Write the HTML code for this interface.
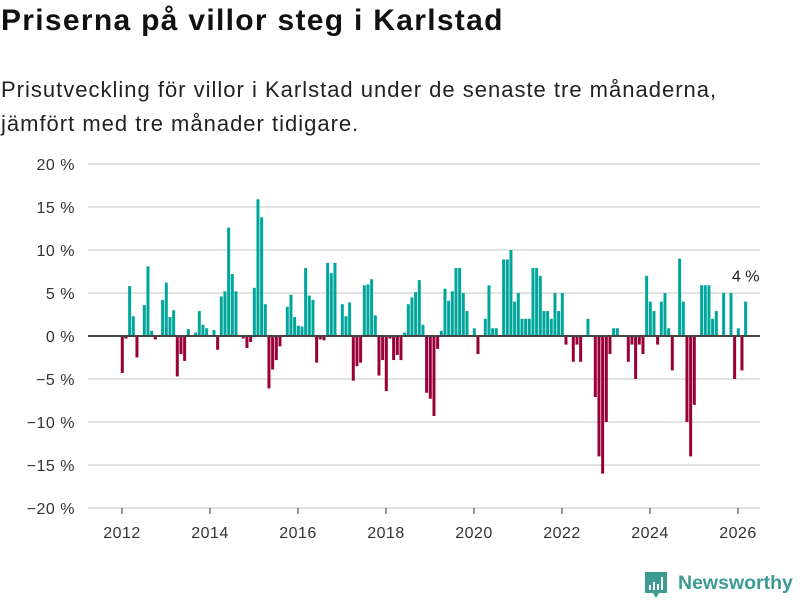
<!DOCTYPE html>
<html><head><meta charset="utf-8">
<style>
body{margin:0;background:#fff;font-family:"Liberation Sans","DejaVu Sans",sans-serif;}
#wrap{position:relative;width:800px;height:600px;overflow:hidden;}
h1{position:absolute;left:1px;top:4px;margin:0;font-size:30px;font-weight:bold;color:#111;letter-spacing:1.3px;}
#sub{position:absolute;left:1px;top:73px;margin:0;font-size:22px;line-height:34px;color:#222;letter-spacing:1px;}
svg{position:absolute;left:0;top:0;}
</style></head><body>
<div id="wrap">
<h1>Priserna på villor steg i Karlstad</h1>
<p id="sub">Prisutveckling för villor i Karlstad under de senaste tre månaderna,<br>jämfört med tre månader tidigare.</p>
<svg id="chart" width="800" height="600"></svg>
</div>
<script>
const yTicks=[20,15,10,5,0,-5,-10,-15,-20];
const yTickLabels=["20 %","15 %","10 %","5 %","0 %","−5 %","−10 %","−15 %","−20 %"];
const xYears=[2012,2014,2016,2018,2020,2022,2024,2026];
// monthly values starting Jan 2012
const values=[-4.3,-0.3,5.8,2.3,-2.5,0,3.6,8.1,0.6,-0.4,0,4.2,
6.2,2.2,3.0,-4.7,-2.1,-2.9,0.8,0,0.4,2.9,1.3,0.9,
0,0.7,-1.6,4.6,5.2,12.6,7.2,5.2,0,-0.3,-1.4,-0.7,
5.6,15.9,13.8,3.7,-6.1,-3.9,-2.8,-1.2,0,3.4,4.8,2.2,
1.2,1.1,7.9,4.7,4.2,-3.1,-0.4,-0.5,8.5,7.3,8.5,0,
3.7,2.3,3.9,-5.2,-3.5,-3.1,5.9,6.0,6.6,2.4,-4.6,-2.8,
-6.4,-0.3,-2.8,-2.2,-2.8,0.4,3.7,4.5,5.1,6.5,1.3,-6.6,
-7.3,-9.3,-1.5,0.6,5.5,4.1,5.2,7.9,7.9,5.0,2.9,0,
0.9,-2.1,0,2.0,5.9,0.9,0.9,0,8.9,8.9,10.0,4.0,
5.0,2.0,2.0,2.0,7.9,7.9,7.0,2.9,2.9,2.0,5.0,2.9,
5.0,-1.0,0,-3.0,-1.0,-3.0,0,2.0,0,-7.1,-14.0,-16.0,
-10.0,-2.1,0.9,0.9,0,0,-3.0,-1.0,-5.0,-1.0,-2.1,7.0,
4.0,2.9,-1.0,4.0,5.0,0.9,-4.0,0,9.0,4.0,-10.0,-14.0,
-8.0,0,5.9,5.9,5.9,2.0,2.9,0,5.0,0,5.0,-5.0,
0.9,-4.0,4.0];
const lastLabel="4 %";

const svg=document.getElementById('chart');
const NS='http://www.w3.org/2000/svg';
function y(v){return 336-v*8.6;}
function xm(m){return 120.8+m*44/12;}
function xy(yr){return 122+(yr-2012)*44;}
function mk(tag,attrs){const e=document.createElementNS(NS,tag);for(const k in attrs)e.setAttribute(k,attrs[k]);svg.appendChild(e);return e;}

yTicks.forEach((t,i)=>{
  if(t!==0){const g=mk('line',{x1:88,x2:760,y1:y(t),y2:y(t),stroke:'#e3e3e3','stroke-width':2});
  
  }
  const tx=mk('text',{x:75,y:y(t)+6,'text-anchor':'end','font-size':16,fill:'#333','letter-spacing':0.5,'font-family':'Liberation Sans, DejaVu Sans, sans-serif'});
  tx.textContent=yTickLabels[i];
  
  
});
xYears.forEach(yr=>{
  const tk=mk('line',{x1:xy(yr),x2:xy(yr),y1:508,y2:514,stroke:'#333','stroke-width':1});
  
  
  const tx=mk('text',{x:xy(yr),y:538,'text-anchor':'middle','font-size':16,fill:'#333','letter-spacing':0.5,'font-family':'Liberation Sans, DejaVu Sans, sans-serif'});
  tx.textContent=yr;
  
  
});
values.forEach((v,m)=>{
  if(v===0)return;
  const r=mk('rect',{x:xm(m),width:3,y:Math.min(y(v),y(0)),height:Math.abs(y(v)-y(0)),fill:v>0?'#00a69b':'#99003a'});
  
  
});
const zl=mk('line',{x1:88,x2:760,y1:y(0),y2:y(0),stroke:'#444','stroke-width':2});


const lm=values.length-1;
const lab=mk('text',{x:xm(lm)+1.5,y:y(values[lm])-20,'text-anchor':'middle','font-size':16,fill:'#222','font-family':'Liberation Sans, DejaVu Sans, sans-serif'});
lab.textContent=lastLabel;



// logo
const lg=mk('g',{});


const p=document.createElementNS(NS,'path');
p.setAttribute('d','M645 572 h22 v21 h-8 l-3 5 l-3 -5 h-8 z');p.setAttribute('fill','#3d9b94');lg.appendChild(p);
[[649,585,2,5],[653,582,2,8],[657,584,2,6],[661,577,2,13]].forEach(b=>{const r=document.createElementNS(NS,'rect');r.setAttribute('x',b[0]);r.setAttribute('y',b[1]);r.setAttribute('width',b[2]);r.setAttribute('height',b[3]);r.setAttribute('fill','#fff');lg.appendChild(r);});
const lt=document.createElementNS(NS,'text');
lt.setAttribute('x',678);lt.setAttribute('y',589);lt.setAttribute('font-size',19.5);lt.setAttribute('font-weight','bold');lt.setAttribute('fill','#3d9b94');lt.setAttribute('font-family','Liberation Sans, DejaVu Sans, sans-serif');
lt.textContent='Newsworthy';lg.appendChild(lt);
</script>
</body></html>
